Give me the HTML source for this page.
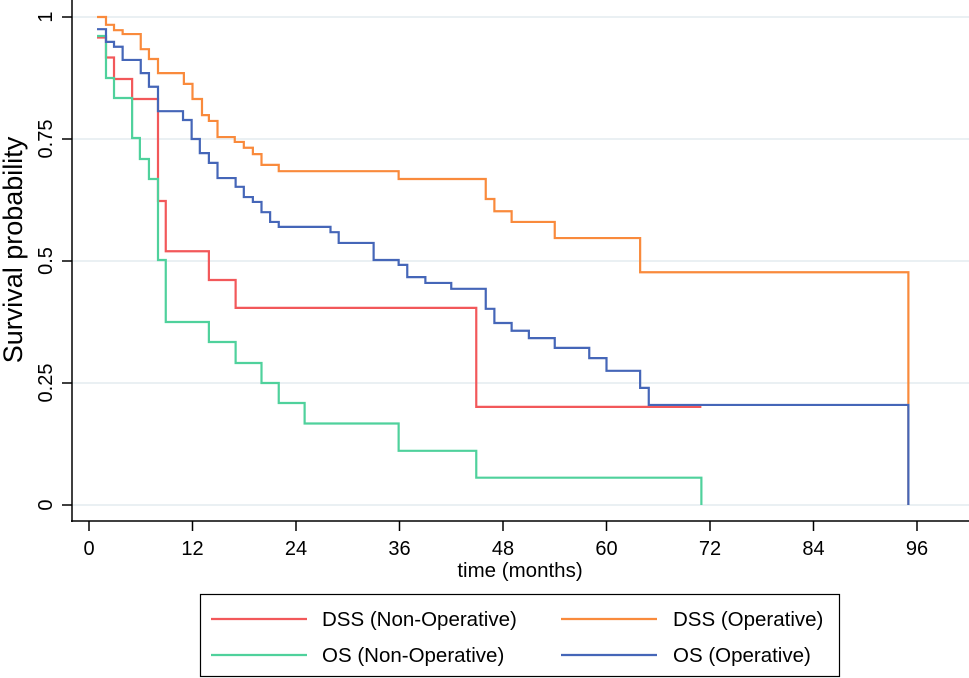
<!DOCTYPE html>
<html><head><meta charset="utf-8"><style>
body{margin:0;background:#fff;}
svg{display:block;font-family:"Liberation Sans",Arial,sans-serif;}
</style></head><body>
<svg id="chart" width="969" height="678" viewBox="0 0 969 678" xmlns="http://www.w3.org/2000/svg">
<g id="grid"></g>
<g id="series"></g>
<g id="axes"></g>
<text transform="translate(22,250) rotate(-90)" text-anchor="middle" font-size="27">Survival probability</text>
<text x="520" y="577" text-anchor="middle" font-size="20.5">time (months)</text>
<g>
<rect x="200.5" y="594.5" width="639" height="82" fill="#fff" stroke="#000" stroke-width="1.2"/>
<g><line x1="211" y1="619" x2="307" y2="619" stroke="#f2585a" stroke-width="2.2"/><text x="322" y="626" font-size="20.5">DSS (Non-Operative)</text></g>
<g><line x1="561" y1="619" x2="657" y2="619" stroke="#f98a3c" stroke-width="2.2"/><text x="673" y="626" font-size="20.5">DSS (Operative)</text></g>
<g><line x1="211" y1="655" x2="307" y2="655" stroke="#4fd19c" stroke-width="2.2"/><text x="322" y="662" font-size="20.5">OS (Non-Operative)</text></g>
<g><line x1="561" y1="655" x2="657" y2="655" stroke="#4566b8" stroke-width="2.2"/><text x="673" y="662" font-size="20.5">OS (Operative)</text></g>
</g>
</svg>
<script>
const xTicks=[0,12,24,36,48,60,72,84,96];
const yTicks=[0,0.25,0.5,0.75,1];
const yTickLabels=["0","0.25","0.5","0.75","1"];
const dssNonOpT=[0.93,1.97,2.9,5.0,8.0,8.9,13.9,17.0,44.9,71.0];
const dssNonOpS=[0.958,0.917,0.873,0.832,0.623,0.520,0.461,0.404,0.201,0.201];
const dssOpT=[0.93,1.97,2.9,3.9,6.0,6.95,8.0,11.0,12.0,13.1,13.9,14.9,16.9,17.95,19.0,20.0,22.0,35.9,46.0,47.0,49.0,54.0,63.9,95.0];
const dssOpS=[1.0,0.984,0.973,0.965,0.934,0.914,0.885,0.863,0.832,0.799,0.787,0.754,0.744,0.732,0.719,0.697,0.684,0.668,0.627,0.602,0.580,0.547,0.477,0];
const osNonOpT=[0.93,1.97,2.9,5.0,5.9,6.95,8.0,8.9,13.9,17.0,20.0,22.0,25.0,35.9,44.9,71.0];
const osNonOpS=[0.961,0.875,0.834,0.752,0.709,0.668,0.502,0.375,0.334,0.291,0.250,0.209,0.167,0.111,0.056,0];
const osOpT=[0.93,1.97,2.9,3.9,6.0,6.95,8.0,10.9,11.9,12.85,13.9,14.9,17.0,17.95,19.0,20.0,21.0,22.0,28.0,28.95,33.0,35.9,36.9,39.0,42.0,46.0,47.0,49.0,51.0,54.0,58.0,60.0,63.9,64.9,95.0];
const osOpS=[0.975,0.949,0.939,0.912,0.885,0.857,0.807,0.789,0.750,0.721,0.701,0.670,0.652,0.631,0.621,0.600,0.580,0.570,0.559,0.537,0.502,0.492,0.467,0.455,0.443,0.402,0.373,0.357,0.342,0.322,0.301,0.275,0.240,0.205,0];

const NS="http://www.w3.org/2000/svg";
const X0=89,XS=(917-89)/96,Y0=505,YS=488;
function xPos(t){return X0+t*XS;}
function yPos(s){return Y0-s*YS;}
function mk(tag,attrs,parent){const e=document.createElementNS(NS,tag);for(const k in attrs)e.setAttribute(k,attrs[k]);parent.appendChild(e);return e;}
const grid=document.getElementById('grid'),axes=document.getElementById('axes'),ser=document.getElementById('series');
yTicks.forEach((v,i)=>{
  const y=yPos(v);
  const g=mk('line',{x1:72,x2:969,y1:y,y2:y,stroke:'#eaf0f3','stroke-width':2},grid);
  
  
  const tk=mk('line',{x1:62,x2:72,y1:y,y2:y,stroke:'#000','stroke-width':1.5},axes);
  
  
  const tx=mk('text',{transform:`translate(52,${y}) rotate(-90)`,'text-anchor':'middle','font-size':20},axes);
  tx.textContent=yTickLabels[i];
  
  
});
const ya=mk('line',{x1:72,x2:72,y1:0,y2:522,stroke:'#000','stroke-width':1.5},axes);


const xa=mk('line',{x1:71,x2:969,y1:521,y2:521,stroke:'#000','stroke-width':1.5},axes);


xTicks.forEach(v=>{
  const x=xPos(v);
  const tk=mk('line',{x1:x,x2:x,y1:521,y2:531,stroke:'#000','stroke-width':1.5},axes);
  
  
  const tx=mk('text',{x:x,y:555,'text-anchor':'middle','font-size':20},axes);
  tx.textContent=String(v);
  
  
});
function stepPath(T,S){
  let d=`M${xPos(T[0])},${yPos(S[0])}`;
  for(let i=1;i<T.length;i++){d+=` H${xPos(T[i])} V${yPos(S[i])}`;}
  return d;
}
function drawSeries(T,S,color,name){
  const p=mk('path',{d:stepPath(T,S),fill:'none',stroke:color,'stroke-width':2.2},ser);
  
  
}
drawSeries(dssNonOpT,dssNonOpS,'#f2585a','dss-non-operative-line');
drawSeries(dssOpT,dssOpS,'#f98a3c','dss-operative-line');
drawSeries(osNonOpT,osNonOpS,'#4fd19c','os-non-operative-line');
drawSeries(osOpT,osOpS,'#4566b8','os-operative-line');
</script>
</body></html>
